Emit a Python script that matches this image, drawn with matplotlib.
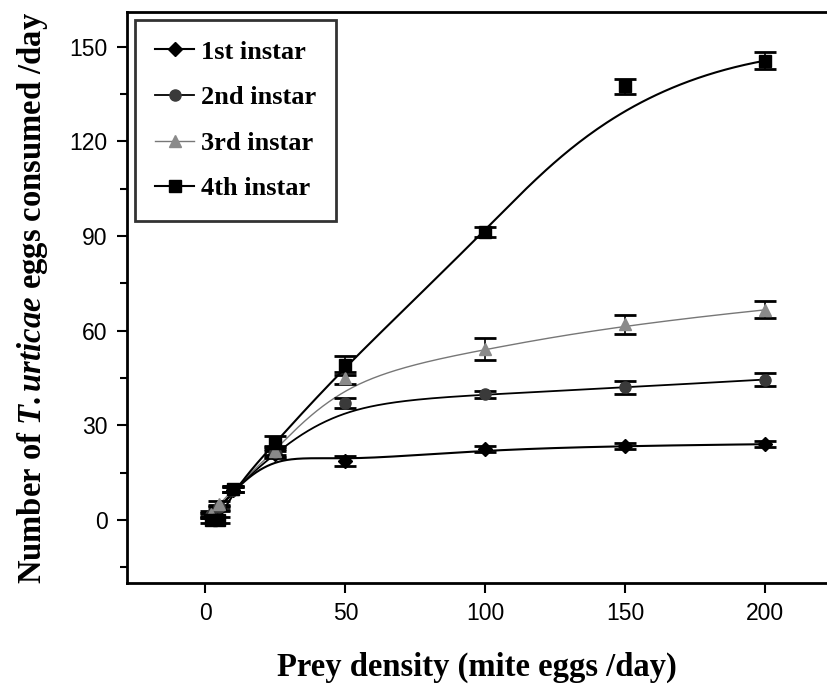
import numpy as np
import matplotlib
matplotlib.use("Agg")
import matplotlib.pyplot as plt
from matplotlib.lines import Line2D
from matplotlib.ticker import MultipleLocator

# prey densities (mite eggs / day)
density = [2, 5, 10, 25, 50, 100, 150, 200]

# eggs consumed per day
instar1 = [1.5, 3.5, 9.5, 20.8, 18.6, 22.4, 23.5, 24.0]
instar2 = [1.5, 4.0, 9.5, 21.5, 37.0, 39.8, 42.0, 44.5]
instar3 = [2.0, 5.0, 9.8, 22.0, 45.0, 54.3, 62.0, 66.6]
instar4 = [0.0, 0.0, 9.8, 24.5, 49.0, 91.3, 137.5, 145.6]

err1 = [0.8, 0.8, 0.8, 1.2, 1.5, 1.0, 1.0, 1.0]
err2 = [0.8, 0.8, 0.8, 1.5, 1.5, 1.0, 2.0, 2.0]
err3 = [0.8, 1.0, 0.8, 1.5, 2.0, 3.5, 3.0, 2.7]
err4 = [1.0, 1.0, 1.0, 2.0, 3.0, 1.5, 2.4, 2.6]

labels = ["1st instar", "2nd instar", "3rd instar", "4th instar"]


def bspline(xs, ys, n=400):
    # clamped cubic B-spline using the data points as control points
    P = np.column_stack([xs, ys]).astype(float)
    k = 3
    m = len(P)
    inner = np.linspace(0, 1, m - k + 1)
    t = np.concatenate([[0] * k, inner, [1] * k])
    u = np.linspace(0, 1, n)
    u[-1] = 1 - 1e-10
    N = np.zeros((n, len(t) - 1))
    for i in range(len(t) - 1):
        N[:, i] = (t[i] <= u) & (u < t[i + 1])
    for d in range(1, k + 1):
        Nn = np.zeros((n, len(t) - 1 - d))
        for i in range(len(t) - 1 - d):
            a = np.zeros(n)
            b = np.zeros(n)
            if t[i + d] != t[i]:
                a = (u - t[i]) / (t[i + d] - t[i]) * N[:, i]
            if t[i + d + 1] != t[i + 1]:
                b = (t[i + d + 1] - u) / (t[i + d + 1] - t[i + 1]) * N[:, i + 1]
            Nn[:, i] = a + b
        N = Nn
    C = N @ P
    return C[:, 0], C[:, 1]


plt.rcParams["mathtext.fontset"] = "custom"
plt.rcParams["mathtext.rm"] = "Liberation Serif:bold"
plt.rcParams["mathtext.it"] = "Liberation Serif:bold:italic"
plt.rcParams["mathtext.bf"] = "Liberation Serif:bold"

fig = plt.figure(figsize=(8.27, 6.91), dpi=100)
ax = fig.add_axes([0.1536, 0.1563, 0.8464, 0.8263])

series = [
    (instar1, err1, "D", "black", "black", 1.5, 7),
    (instar2, err2, "o", "#3a3a3a", "black", 1.3, 8),
    (instar3, err3, "^", "#8a8a8a", "#777777", 1.0, 8),
    (instar4, err4, "s", "black", "black", 1.5, 9),
]

handles = []
for (vals, errs, mk, mcol, lcol, lw, ms), lab in zip(series, labels):
    cx, cy = bspline(density, vals)
    ax.plot(cx, cy, color=lcol, lw=lw, zorder=2)
    ax.errorbar(density, vals, yerr=errs, fmt=mk, color=mcol, ecolor="black",
                mec=mcol, ms=ms, elinewidth=1.2, capsize=8, capthick=2.0, zorder=3)
    handles.append(Line2D([0], [0], color=lcol, lw=lw, marker=mk, mfc=mcol,
                          mec=mcol, ms=ms))

ax.set_xlim(-28, 222)
ax.set_ylim(-20, 161)
ax.xaxis.set_major_locator(MultipleLocator(50))
ax.yaxis.set_major_locator(MultipleLocator(30))
ax.yaxis.set_minor_locator(MultipleLocator(15))
ax.tick_params(which="major", direction="out", length=7, width=1.5, labelsize=16.5)
ax.tick_params(axis="y", which="major", pad=7)
ax.tick_params(axis="x", which="major", pad=7)
ax.tick_params(which="minor", direction="out", length=5, width=1.5)
for lab in ax.get_xticklabels() + ax.get_yticklabels():
    lab.set_family("Liberation Sans")
ax.spines["right"].set_visible(False)
for s in ["left", "bottom", "top"]:
    ax.spines[s].set_linewidth(2.0)
ax.tick_params(top=False, right=False)

ax.set_xlabel("Prey density (mite eggs /day)", family="Liberation Serif",
              fontweight="bold", fontsize=23.5, labelpad=19)
ax.set_ylabel("Number of $\\mathit{T.urticae}$ eggs consumed /day",
              family="Liberation Serif", fontweight="bold", fontsize=23.5, labelpad=14)

leg = ax.legend(handles, labels, loc="upper left", bbox_to_anchor=(0.011, 0.986),
                borderaxespad=0, frameon=True, fancybox=False, edgecolor="black",
                handlelength=1.5, labelspacing=0.84, borderpad=0.76, handletextpad=0.25,
                prop={"family": "Liberation Serif", "weight": "bold", "size": 19})
leg.get_frame().set_linewidth(2.0)

fig.savefig("out.png", dpi=100)
